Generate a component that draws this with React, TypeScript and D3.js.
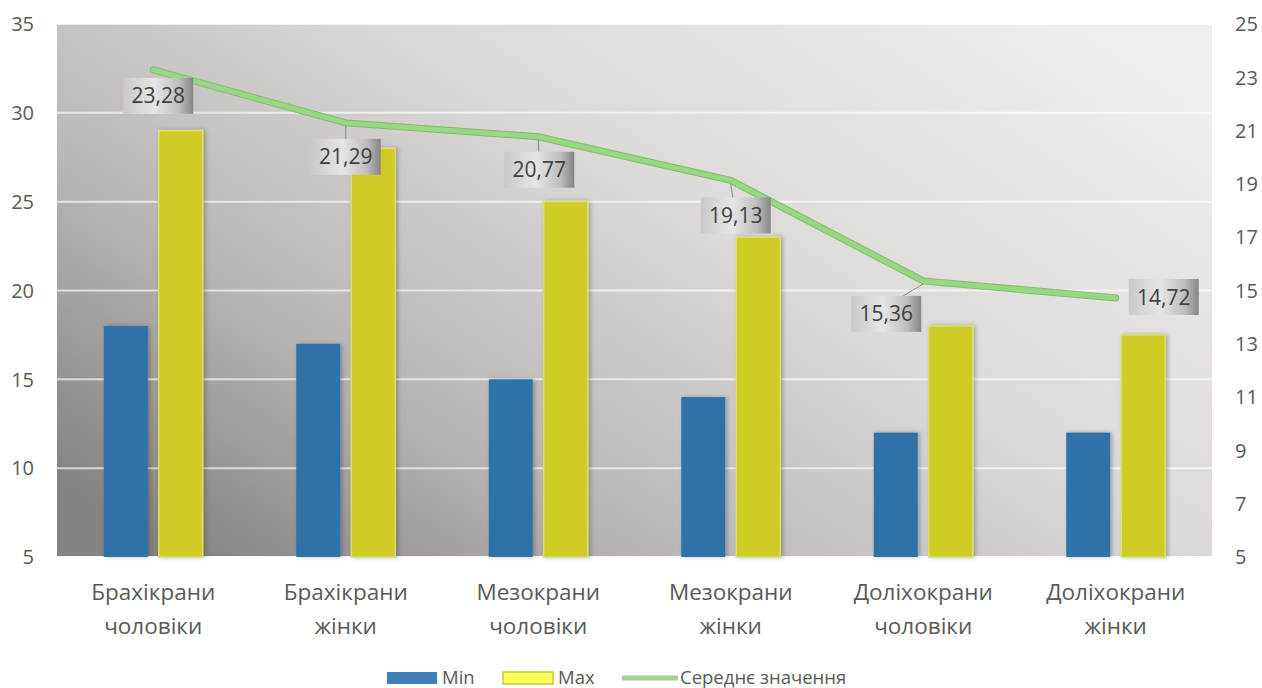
import React from "react";
import * as d3 from "d3";

const categories = [
  ["Брахікрани", "чоловіки"],
  ["Брахікрани", "жінки"],
  ["Мезокрани", "чоловіки"],
  ["Мезокрани", "жінки"],
  ["Доліхокрани", "чоловіки"],
  ["Доліхокрани", "жінки"],
];
const minValues = [18, 17, 15, 14, 12, 12];
const maxValues = [29, 28, 25, 23, 18, 17.5];
const meanValues = [23.28, 21.29, 20.77, 19.13, 15.36, 14.72];
const meanLabels = ["23,28", "21,29", "20,77", "19,13", "15,36", "14,72"];
const leftTicks = [5, 10, 15, 20, 25, 30, 35];
const rightTicks = [5, 7, 9, 11, 13, 15, 17, 19, 21, 23, 25];
// label box offsets relative to the point (dx of box center, dy of box top)
const labelOffsets = [
  [5, 8],
  [0, 16],
  [1, 15],
  [5, 17],
  [-37, 15],
  [48, -19],
];

const W = 1262;
const H = 688;
const M = { left: 57, right: 1212, top: 24, bottom: 557 };

export default function App() {
  const x = d3
    .scaleBand<number>()
    .domain(d3.range(categories.length))
    .range([M.left, M.right])
    .padding(0);
  const yL = d3.scaleLinear().domain([5, 35]).range([M.bottom, M.top]);
  const yR = d3.scaleLinear().domain([5, 25]).range([M.bottom, M.top]);
  const barW = 44;
  const gap = 11;
  const cx = (i: number) => (x(i) as number) + x.bandwidth() / 2;
  const line = d3
    .line<number>()
    .x((_, i) => cx(i))
    .y((d) => yR(d));
  const font = "'Open Sans', 'Noto Sans', sans-serif";
  const textColor = "#595959";
  return (
    <svg
      width={W}
      height={H}
      style={{ position: "absolute", left: 0, top: 0, display: "block" }}
      fontFamily={font}
    >
      <defs>
        <linearGradient id="bg" x1="0" y1="0.85" x2="1" y2="0.15">
          <stop offset="0" stopColor="#858282" />
          <stop offset="0.28" stopColor="#bab6b5" />
          <stop offset="0.6" stopColor="#dcd9d8" />
          <stop offset="1" stopColor="#f0eeed" />
        </linearGradient>
        <linearGradient id="lbl" x1="0" y1="0" x2="1" y2="0">
          <stop offset="0" stopColor="#c9c9c9" />
          <stop offset="0.45" stopColor="#e6e6e6" />
          <stop offset="0.8" stopColor="#bdbdbd" />
          <stop offset="1" stopColor="#858585" />
        </linearGradient>
        <filter id="sh" x="-20%" y="-5%" width="140%" height="110%">
          <feDropShadow dx="2" dy="0" stdDeviation="2" floodColor="#000" floodOpacity="0.25" />
        </filter>
      </defs>
      <rect width={W} height={H} fill="#ffffff" />
      <rect
        x={M.left}
        y={M.top}
        width={M.right - M.left}
        height={M.bottom - M.top}
        fill="url(#bg)"
      />
      {leftTicks.map((t) => (
        <line
          key={"g" + t}
          x1={M.left}
          x2={M.right}
          y1={yL(t)}
          y2={yL(t)}
          stroke="#ffffff"
          strokeOpacity={t === 5 ? 0.9 : 0.65}
          strokeWidth={2}
        />
      ))}
      {leftTicks.map((t) => (
        <text
          key={"l" + t}
          x={34}
          y={yL(t)}
          dy="0.36em"
          textAnchor="end"
          fontSize={20}
          fill={textColor}
        >
          {t}
        </text>
      ))}
      {rightTicks.map((t) => (
        <text
          key={"r" + t}
          x={1235}
          y={yR(t)}
          dy="0.36em"
          textAnchor="start"
          fontSize={20}
          fill={textColor}
        >
          {t}
        </text>
      ))}
      {minValues.map((v, i) => (
        <rect
          key={"min" + i}
          x={cx(i) - gap / 2 - barW}
          y={yL(v)}
          width={barW}
          height={yL(5) - yL(v)}
          fill="#2e73a8"
          filter="url(#sh)"
        />
      ))}
      {maxValues.map((v, i) => (
        <rect
          key={"max" + i}
          x={cx(i) + gap / 2}
          y={yL(v)}
          width={barW}
          height={yL(5) - yL(v)}
          fill="#d0cc28"
          stroke="#d6e06a"
          strokeWidth={1.5}
          filter="url(#sh)"
        />
      ))}
      <path
        d={line(meanValues) || ""}
        fill="none"
        stroke="#7fbf6a"
        strokeWidth={7}
        strokeLinejoin="round"
        strokeLinecap="round"
      />
      <path
        d={line(meanValues) || ""}
        fill="none"
        stroke="#98d884"
        strokeWidth={5}
        strokeLinejoin="round"
        strokeLinecap="round"
      />
      {meanValues.map((v, i) => {
        const px = cx(i);
        const py = yR(v);
        const [dx, dy] = labelOffsets[i];
        const bw = 70;
        const bh = 36;
        const bx = px + dx - bw / 2;
        const by = py + dy;
        const leader =
          dy > 10 ? (
            <line
              x1={px}
              y1={py + 3}
              x2={i === 4 ? bx + bw - 18 : px + dx * 0.4}
              y2={by}
              stroke="#8a8a8a"
              strokeWidth={1}
            />
          ) : null;
        return (
          <g key={"lab" + i}>
            {leader}
            <rect x={bx} y={by} width={bw} height={bh} fill="url(#lbl)" />
            <text
              x={bx + bw / 2}
              y={by + bh / 2}
              dy="0.36em"
              textAnchor="middle"
              fontSize={21}
              fill="#404040"
            >
              {meanLabels[i]}
            </text>
          </g>
        );
      })}
      {categories.map((c, i) => (
        <text
          key={"c" + i}
          x={cx(i)}
          textAnchor="middle"
          fontSize={22.5}
          fill={textColor}
        >
          <tspan x={cx(i)} y={600}>
            {c[0]}
          </tspan>
          <tspan x={cx(i)} y={634}>
            {c[1]}
          </tspan>
        </text>
      ))}
      <g fontSize={18.5} fill={textColor}>
        <rect x={387} y={672} width={50} height={12} fill="#3e7fb8" />
        <text x={442} y={684}>
          Min
        </text>
        <rect x={503} y={672} width={50} height={12} fill="#ffff5a" stroke="#c8c83a" strokeWidth={1.5} />
        <text x={558} y={684}>
          Max
        </text>
        <line x1={622} x2={678} y1={678} y2={678} stroke="#a9cf98" strokeWidth={5} />
        <text x={680} y={684}>
          Середнє значення
        </text>
      </g>
    </svg>
  );
}
